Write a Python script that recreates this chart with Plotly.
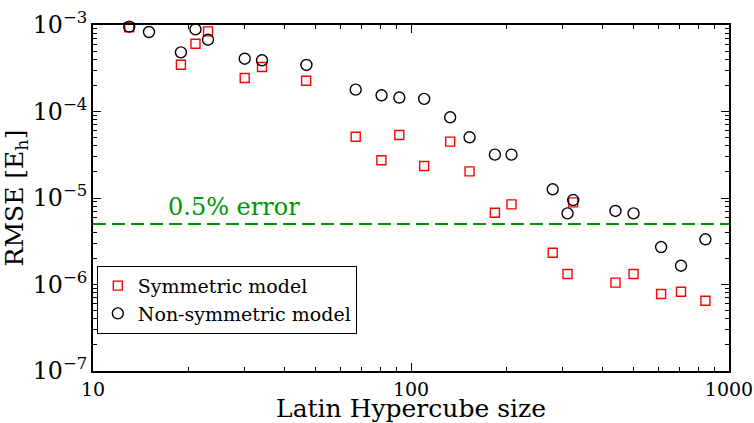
import plotly.graph_objects as go

# Latin Hypercube sizes and RMSE values (Hartree)
sym_size = [13, 18.9, 21, 23, 30, 34, 46.8, 67, 80.7, 91.9, 110, 132.8, 152.8,
            183.6, 207, 279, 310.6, 323.6, 439.5, 501, 611.6, 706.5, 843]
sym_rmse = [9.4e-4, 3.47e-4, 6.08e-4, 8.45e-4, 2.44e-4, 3.27e-4, 2.27e-4, 5.1e-5,
            2.73e-5, 5.35e-5, 2.34e-5, 4.48e-5, 2.03e-5, 6.76e-6, 8.45e-6, 2.33e-6,
            1.32e-6, 8.9e-6, 1.05e-6, 1.32e-6, 7.76e-7, 8.26e-7, 6.5e-7]

nonsym_size = [13, 15, 18.9, 21, 23, 30, 34, 46.9, 67, 80.8, 91.9, 110, 132.8,
               152.8, 183.6, 207, 279, 310.6, 323.6, 439.5, 501, 611.6, 706.5, 843]
nonsym_rmse = [9.57e-4, 8.3e-4, 4.83e-4, 8.9e-4, 6.76e-4, 4.08e-4, 3.91e-4, 3.45e-4,
               1.79e-4, 1.54e-4, 1.45e-4, 1.40e-4, 8.57e-5, 5.03e-5, 3.17e-5, 3.17e-5,
               1.26e-5, 6.65e-6, 9.48e-6, 7.08e-6, 6.65e-6, 2.71e-6, 1.65e-6, 3.33e-6]

error_threshold = 5e-6

FONT = "DejaVu Serif"
GREEN = "rgb(0,150,0)"

fig = go.Figure()
fig.add_trace(go.Scatter(
    x=sym_size, y=sym_rmse, mode="markers", name="Symmetric model",
    cliponaxis=False,
    marker=dict(symbol="square-open", size=9, color="rgb(255,0,0)",
                line=dict(width=1.4, color="rgb(255,0,0)")),
))
fig.add_trace(go.Scatter(
    x=nonsym_size, y=nonsym_rmse, mode="markers", name="Non-symmetric model",
    cliponaxis=False,
    marker=dict(symbol="circle-open", size=11, color="black",
                line=dict(width=1.4, color="black")),
))

# 0.5% error reference line
fig.add_shape(type="line", xref="paper", x0=0, x1=1, yref="y",
              y0=error_threshold, y1=error_threshold,
              line=dict(color=GREEN, width=2, dash="13px,6px"))
fig.add_annotation(x=1.444, y=-5.10, xref="x", yref="y", text="0.5% error",
                   showarrow=False, xanchor="center", yanchor="middle",
                   font=dict(family=FONT, size=24, color=GREEN))

axis_common = dict(
    type="log", showgrid=False, zeroline=False, automargin=False,
    showline=True, linecolor="black", linewidth=1.6, mirror="ticks",
    ticks="inside", ticklen=8, tickwidth=1.4, tickcolor="black", dtick=1,
    ticklabeloverflow="allow",
    tickfont=dict(family=FONT, size=19, color="black"),
    minor=dict(ticks="inside", ticklen=4, tickwidth=1.2, tickcolor="black",
               dtick="D1", showgrid=False),
)

fig.update_xaxes(**axis_common, range=[1, 3], exponentformat="none",
                 title=dict(text="Latin Hypercube size", standoff=2,
                            font=dict(family=FONT, size=25, color="black")))
fig.update_yaxes(**axis_common, range=[-7, -3], exponentformat="power",
                 title=dict(text="RMSE [E<sub>h</sub>]", standoff=6,
                            font=dict(family=FONT, size=25, color="black")))

fig.update_layout(
    width=754, height=423,
    margin=dict(l=93, r=25, t=25, b=52),
    paper_bgcolor="white", plot_bgcolor="white",
    font=dict(family=FONT, color="black"),
    showlegend=True,
    legend=dict(x=0.006, y=0.304, xanchor="left", yanchor="top",
                bgcolor="white", bordercolor="black", borderwidth=1,
                font=dict(family=FONT, size=19, color="black"),
                itemwidth=30, tracegroupgap=0),
)

fig.write_html("out.html")
